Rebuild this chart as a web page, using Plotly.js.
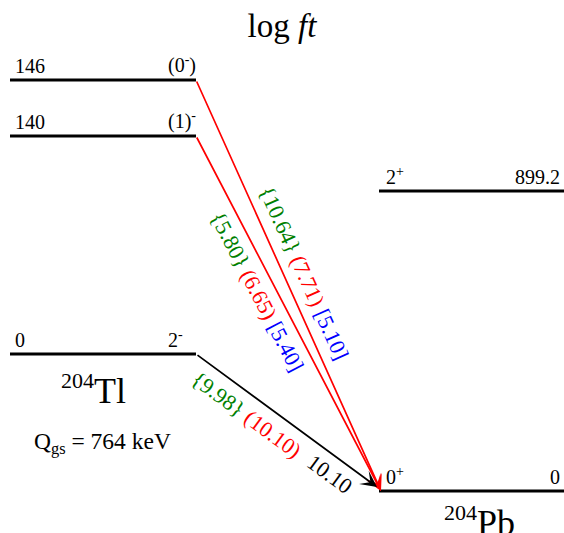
<!DOCTYPE html>
<html>
<head>
<meta charset="utf-8">
<script src="https://cdn.plot.ly/plotly-3.0.1.min.js"></script>
<style>html,body{margin:0;padding:0;background:#fff;}#chart{width:564px;height:533px;}</style>
</head>
<body>
<div id="chart"></div>
<script>
// ---- data ----
const tlEnergies = ['146', '140', '0'];
const tlSpins = ['(0<sup>-</sup>)', '(1)<sup>-</sup>', '2<sup>-</sup>'];
const pbEnergies = ['899.2', '0'];
const pbSpins = ['2<sup>+</sup>', '0<sup>+</sup>'];
const logftGreen = ['10.64', '5.80', '9.98'];
const logftRed = ['7.71', '6.65', '10.10'];
const logftBlue = ['5.10', '5.40', null];
const logftBlack = [null, null, '10.10'];
const qgsKeV = 764;
const parentName = ['204', 'Tl'];
const daughterName = ['204', 'Pb'];

// ---- schematic layout (drawing rows, not energies) ----
const tlX = [10, 196], pbX = [379, 564];
const tlRowY = [80, 136, 354];
const pbRowY = [191, 491];
const FONT = '"Liberation Serif", "Times New Roman", "DejaVu Serif", serif';
const f = (size, color) => ({family: FONT, size: size, color: color || '#000'});

const traces = [];
tlRowY.forEach(y => traces.push({x: tlX, y: [y, y], mode: 'lines', line: {color: '#000', width: 3}, hoverinfo: 'skip'}));
pbRowY.forEach(y => traces.push({x: pbX, y: [y, y], mode: 'lines', line: {color: '#000', width: 3}, hoverinfo: 'skip'}));

const ann = [];
// level labels
tlEnergies.forEach((e, i) => {
  ann.push({x: 13, y: tlRowY[i] - 1, text: e, xanchor: 'left', yanchor: 'bottom', showarrow: false, font: f(20)});
  ann.push({x: 166, y: tlRowY[i] - 1, text: tlSpins[i], xanchor: 'left', yanchor: 'bottom', showarrow: false, font: f(20)});
});
pbEnergies.forEach((e, i) => {
  ann.push({x: 562, y: pbRowY[i] - 1, text: e, xanchor: 'right', yanchor: 'bottom', showarrow: false, font: f(20)});
  ann.push({x: 384, y: pbRowY[i] - 1, text: pbSpins[i], xanchor: 'left', yanchor: 'bottom', showarrow: false, font: f(20)});
});

// transitions
const colors = ['red', 'red', '#000'];
const tips = [[381, 491], [381, 491], [377, 487]];
const labelPos = [[0.49, 19.5], [0.415, -17.5], [0.34, -19]];
tlRowY.forEach((y0, i) => {
  const x0 = tlX[1], [x1, y1] = tips[i];
  ann.push({x: x1, y: y1, ax: x0, ay: y0, axref: 'x', ayref: 'y', xref: 'x', yref: 'y',
    text: '', showarrow: true, arrowhead: 3, arrowsize: 1.6, arrowwidth: 1.7, arrowcolor: colors[i], standoff: 0});
  const dx = x1 - x0, dy = y1 - y0, L = Math.hypot(dx, dy);
  const ux = dx / L, uy = dy / L, nx = uy, ny = -ux;
  const ang = Math.atan2(dy, dx) * 180 / Math.PI;
  const place = (t, d) => [x0 + ux * L * t + nx * d, y0 + uy * L * t + ny * d];
  let parts = ['<span style="color:green">{' + logftGreen[i] + '}</span>',
               '<span style="color:red">(' + logftRed[i] + ')</span>'];
  if (logftBlue[i]) parts.push('<span style="color:blue">[' + logftBlue[i] + ']</span>');
  const [cx, cy] = place(labelPos[i][0], labelPos[i][1]);
  ann.push({x: cx, y: cy, text: parts.join(' '), textangle: ang, showarrow: false,
    xanchor: 'center', yanchor: 'middle', font: f(22)});
  if (logftBlack[i]) {
    const [bx, by] = place(0.8, -17.5);
    ann.push({x: bx, y: by, text: logftBlack[i], textangle: ang, showarrow: false,
      xanchor: 'center', yanchor: 'middle', font: f(22)});
  }
});

// nuclide names
const nuclide = n => '<sup><span style="font-size:22px">' + n[0] + '</span></sup>' + n[1];
ann.push({x: 93, y: 389, text: nuclide(parentName), showarrow: false,
  xanchor: 'center', yanchor: 'middle', font: f(36)});
ann.push({x: 479, y: 521, text: nuclide(daughterName), showarrow: false,
  xanchor: 'center', yanchor: 'middle', font: f(36)});
ann.push({x: 102, y: 443, text: 'Q<sub>gs</sub> = ' + qgsKeV + ' keV', showarrow: false,
  xanchor: 'center', yanchor: 'middle', font: f(23.5)});

const layout = {
  width: 564, height: 533,
  margin: {l: 0, r: 0, t: 0, b: 0},
  paper_bgcolor: '#fff', plot_bgcolor: '#fff',
  showlegend: false,
  font: f(20),
  title: {text: 'log <i>ft</i>', font: f(33),
    x: 0.5, xanchor: 'center', y: 1 - 25 / 533, yanchor: 'middle', yref: 'container'},
  xaxis: {range: [0, 564], visible: false, fixedrange: true},
  yaxis: {range: [533, 0], visible: false, fixedrange: true},
  annotations: ann
};
Plotly.newPlot('chart', traces, layout, {staticPlot: true, displayModeBar: false});
</script>
</body>
</html>
